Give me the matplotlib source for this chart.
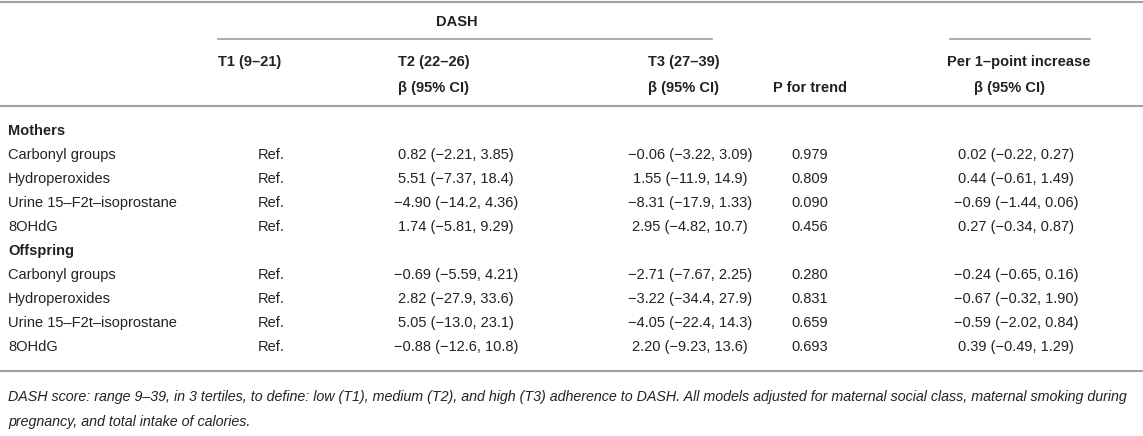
import matplotlib
matplotlib.use("Agg")
import matplotlib.pyplot as plt

# table content
groups = ["Mothers", "Offspring"]
outcomes = ["Carbonyl groups", "Hydroperoxides", "Urine 15\u2013F2t\u2013isoprostane", "8OHdG"]

t2_beta = {
    "Mothers": ["0.82 (\u22122.21, 3.85)", "5.51 (\u22127.37, 18.4)",
                "\u22124.90 (\u221214.2, 4.36)", "1.74 (\u22125.81, 9.29)"],
    "Offspring": ["\u22120.69 (\u22125.59, 4.21)", "2.82 (\u221227.9, 33.6)",
                  "5.05 (\u221213.0, 23.1)", "\u22120.88 (\u221212.6, 10.8)"],
}
t3_beta = {
    "Mothers": ["\u22120.06 (\u22123.22, 3.09)", "1.55 (\u221211.9, 14.9)",
                "\u22128.31 (\u221217.9, 1.33)", "2.95 (\u22124.82, 10.7)"],
    "Offspring": ["\u22122.71 (\u22127.67, 2.25)", "\u22123.22 (\u221234.4, 27.9)",
                  "\u22124.05 (\u221222.4, 14.3)", "2.20 (\u22129.23, 13.6)"],
}
p_trend = {
    "Mothers": ["0.979", "0.809", "0.090", "0.456"],
    "Offspring": ["0.280", "0.831", "0.659", "0.693"],
}
per_point = {
    "Mothers": ["0.02 (\u22120.22, 0.27)", "0.44 (\u22120.61, 1.49)",
                "\u22120.69 (\u22121.44, 0.06)", "0.27 (\u22120.34, 0.87)"],
    "Offspring": ["\u22120.24 (\u22120.65, 0.16)", "\u22120.67 (\u22120.32, 1.90)",
                  "\u22120.59 (\u22122.02, 0.84)", "0.39 (\u22120.49, 1.29)"],
}

footnote = ["DASH score: range 9\u201339, in 3 tertiles, to define: low (T1), medium (T2), and high (T3) "
            "adherence to DASH. All models adjusted for maternal social class, maternal smoking during",
            "pregnancy, and total intake of calories."]

plt.rcParams['font.family'] = ['Liberation Sans', 'DejaVu Sans']
txt = '#222222'
rule = '#a0a0a0'
fs = 10.5

W, H = 1143, 436
fig = plt.figure(figsize=(W / 100, H / 100), dpi=100)
ax = fig.add_axes([0, 0, 1, 1])
ax.set_xlim(0, W)
ax.set_ylim(H, 0)
ax.axis('off')

# column anchors
x_label = 8
x_ref = 258
x_t2 = 456
x_t3 = 690
x_p = 810
x_per = 1016

# rules
ax.plot([0, W], [2, 2], color=rule, lw=1.5)
ax.plot([218, 712], [39, 39], color=rule, lw=1.2)
ax.plot([950, 1090], [39, 39], color=rule, lw=1.2)
ax.plot([0, W], [106, 106], color=rule, lw=1.5)

# header
hb = dict(fontsize=fs, fontweight='bold', color=txt, va='center')
ax.text(457, 22, "DASH", ha='center', **hb)
ax.text(218, 62, "T1 (9\u201321)", ha='left', **hb)
ax.text(398, 62, "T2 (22\u201326)", ha='left', **hb)
ax.text(398, 88, "\u03b2 (95% CI)", ha='left', **hb)
ax.text(648, 62, "T3 (27\u201339)", ha='left', **hb)
ax.text(648, 88, "\u03b2 (95% CI)", ha='left', **hb)
ax.text(x_p, 88, "P for trend", ha='center', **hb)
ax.text(1019, 62, "Per 1\u2013point increase", ha='center', **hb)
ax.text(1010, 88, "\u03b2 (95% CI)", ha='center', **hb)

# body
y = 131
step = 24
body = dict(fontsize=fs, color=txt, va='center')
for g in groups:
    ax.text(x_label, y, g, ha='left', fontweight='bold', **body)
    y += step
    for i, name in enumerate(outcomes):
        ax.text(x_label, y, name, ha='left', **body)
        ax.text(x_ref, y, "Ref.", ha='left', **body)
        ax.text(x_t2, y, t2_beta[g][i], ha='center', **body)
        ax.text(x_t3, y, t3_beta[g][i], ha='center', **body)
        ax.text(x_p, y, p_trend[g][i], ha='center', **body)
        ax.text(x_per, y, per_point[g][i], ha='center', **body)
        y += step

ax.plot([0, W], [y, y], color=rule, lw=1.5)

for k, line in enumerate(footnote):
    ax.text(x_label, y + 26 + k * 25, line, ha='left', va='center',
            fontsize=10.28, style='italic', color=txt)

fig.savefig("out.png", dpi=100)
